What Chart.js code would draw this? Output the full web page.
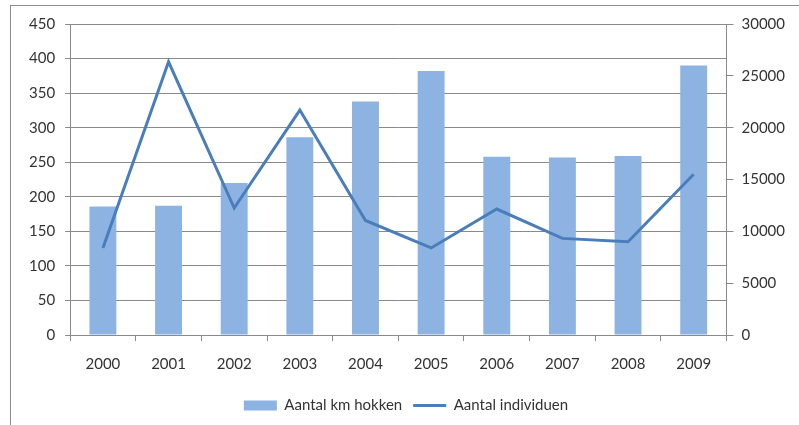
<!DOCTYPE html>
<html><head><meta charset="utf-8">
<script src="https://cdn.jsdelivr.net/npm/chart.js@4/dist/chart.umd.min.js"></script>
<style>
html,body{margin:0;padding:0;background:#fff;}
#wrap{position:relative;width:799px;height:425px;overflow:hidden;}
#frame{position:absolute;left:10px;top:5px;width:820px;height:450px;border:1px solid #8c8c8c;box-sizing:border-box;}
#c{position:absolute;left:0;top:0;}
</style></head>
<body><div id="wrap"><div id="frame"></div><canvas id="c" width="799" height="425"></canvas></div>
<script>
const years = ['2000','2001','2002','2003','2004','2005','2006','2007','2008','2009'];
const kmHokken = [186, 187, 220, 286, 338, 382, 258, 257, 259, 390];
const individuen = [8400, 26350, 12250, 21700, 11050, 8400, 12150, 9320, 9000, 15500];
const leftTicks = [0,50,100,150,200,250,300,350,400,450];
const rightTicks = [0,5000,10000,15000,20000,25000,30000];

const FONT = {family: 'Lato, "Open Sans", sans-serif', size: 15};
const TXT = '#333333';
const GRID = '#8a8a8a';

new Chart(document.getElementById('c'), {
  data: {
    labels: years,
    datasets: [
      {type:'bar', label:'Aantal km hokken', data:kmHokken, yAxisID:'y',
       backgroundColor:'#8db3e2', borderWidth:0, barPercentage:0.41, categoryPercentage:1,
       pointStyle:'rect', order:2},
      {type:'line', label:'Aantal individuen', data:individuen, yAxisID:'y1',
       borderColor:'#4a7ebb', backgroundColor:'#4a7ebb', borderWidth:3, pointRadius:0,
       pointStyle:'line', tension:0, order:1}
    ]
  },
  options: {
    responsive:false, animation:false,
    layout:{padding:{left:19, right:6, top:24, bottom:2}},
    plugins:{
      legend:{position:'bottom', labels:{usePointStyle:true, pointStyleWidth:33, boxHeight:10,
        color:TXT, font:FONT, padding:11, sort:(a,b)=>a.datasetIndex-b.datasetIndex}},
      tooltip:{enabled:false}
    },
    scales:{
      x:{grid:{display:true, drawOnChartArea:false, drawTicks:true, tickLength:6, color:GRID, offset:true},
         border:{color:GRID},
         ticks:{color:TXT, font:FONT, padding:14}},
      y:{position:'left', min:0, max:450,
         afterBuildTicks:(s)=>{s.ticks = leftTicks.map(v=>({value:v}));},
         grid:{color:GRID, tickLength:5},
         border:{color:GRID},
         ticks:{color:TXT, font:FONT, padding:10, callback:(v)=>String(v)}},
      y1:{position:'right', min:0, max:30000,
         afterBuildTicks:(s)=>{s.ticks = rightTicks.map(v=>({value:v}));},
         grid:{drawOnChartArea:false, color:GRID, tickLength:7},
         border:{color:GRID},
         ticks:{color:TXT, font:FONT, padding:8, callback:(v)=>String(v)}}
    }
  }
});
</script></body></html>
